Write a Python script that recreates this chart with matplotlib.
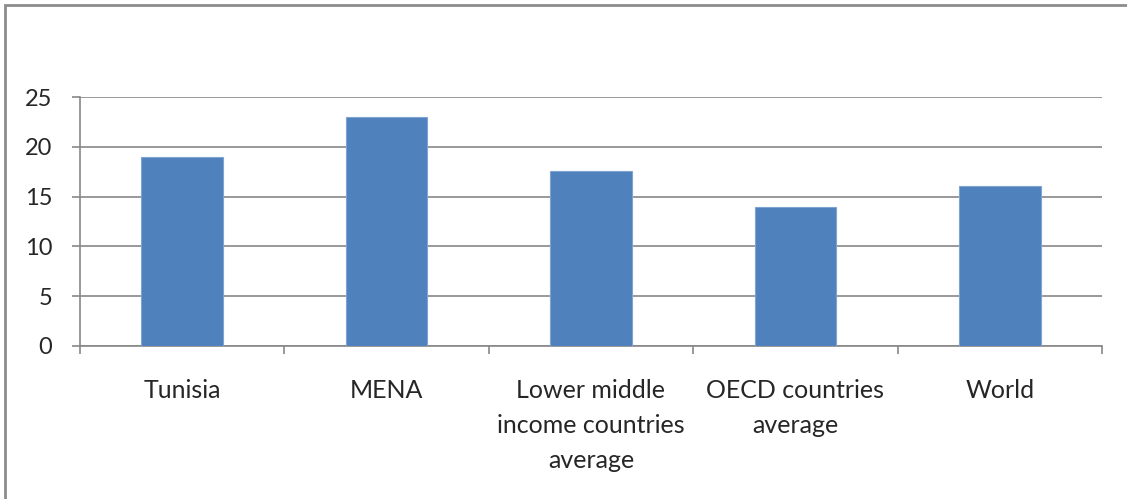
import matplotlib.pyplot as plt
from matplotlib.patches import Rectangle

regions = ['Tunisia', 'MENA', 'Lower middle\nincome countries\naverage',
           'OECD countries\naverage', 'World']
values = [19, 23, 17.6, 14, 16.1]

plt.rcParams['font.family'] = ['Lato', 'DejaVu Sans']

fig = plt.figure(figsize=(11.27, 4.99), dpi=100)
ax = fig.add_axes([80 / 1127, 1 - 346 / 499, 1022 / 1127, 249 / 499])

x = range(len(regions))
ax.bar(x, values, width=0.4, color='#4F81BD', edgecolor='#7FA4D2', linewidth=0.8, zorder=3)

ax.set_xlim(-0.5, len(regions) - 0.5)
ax.set_ylim(0, 25)
ax.set_yticks([0, 5, 10, 15, 20, 25])
ax.yaxis.grid(True, color='#888888', linewidth=1.2, zorder=0)

# category separators as minor ticks under the axis
ax.set_xticks([i - 0.5 for i in range(len(regions) + 1)], minor=True)
ax.set_xticks(list(x))
ax.set_xticklabels(regions, linespacing=1.63, color='#262626')
ax.tick_params(axis='x', which='major', length=0, pad=24, labelsize=18)
ax.tick_params(axis='x', which='minor', length=6, color='#888888', width=1.2)
ax.tick_params(axis='y', length=6, color='#888888', width=1.2, pad=14,
               labelsize=17, labelcolor='#262626')

for side in ['top', 'right']:
    ax.spines[side].set_visible(False)
ax.spines['left'].set_color('#888888')
ax.spines['bottom'].set_color('#888888')
ax.spines['left'].set_linewidth(1.2)
ax.spines['bottom'].set_linewidth(1.2)

# chart area border
fig.patches.append(Rectangle((5 / 1127, -0.1), 1.2, 1 - 5 / 499 + 0.1,
                             transform=fig.transFigure, fill=False,
                             edgecolor='#8C8C8C', linewidth=2))

fig.savefig('out.png', dpi=100)
